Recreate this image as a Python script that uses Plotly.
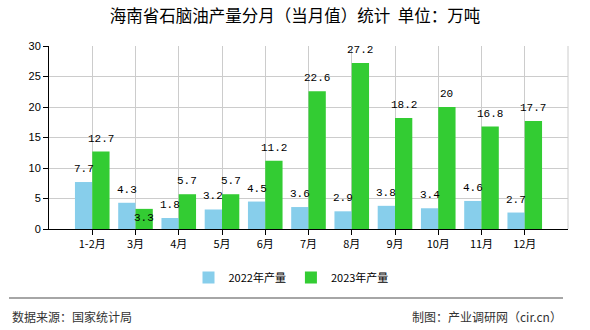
import plotly.graph_objects as go

categories = ["1-2月", "3月", "4月", "5月", "6月", "7月", "8月", "9月", "10月", "11月", "12月"]
values_2022 = [7.7, 4.3, 1.8, 3.2, 4.5, 3.6, 2.9, 3.8, 3.4, 4.6, 2.7]
values_2023 = [12.7, 3.3, 5.7, 5.7, 11.2, 22.6, 27.2, 18.2, 20, 16.8, 17.7]
series_names = ["2022年产量", "2023年产量"]
title_text = "海南省石脑油产量分月（当月值）统计  单位：万吨"
source_text = "数据来源：国家统计局"
credit_text = "制图：产业调研网（cir.cn）"

CJK = "Noto Sans CJK SC"
MONO = "Liberation Mono, DejaVu Sans Mono"

fig = go.Figure()
fig.add_trace(go.Bar(
    x=categories, y=values_2022, name=series_names[0],
    marker=dict(color="#87CEEB", line=dict(width=0)),
))
fig.add_trace(go.Bar(
    x=categories, y=values_2023, name=series_names[1],
    marker=dict(color="#33CC33", line=dict(width=0)),
))

# value labels, placed through the axis scales
annotations = []
half = 43.25 * 0.8 / 4  # offset of each bar centre from category centre (px)
for c, v1, v2 in zip(categories, values_2022, values_2023):
    annotations.append(dict(x=c, y=v1, text=str(v1), xref="x", yref="y", showarrow=False,
                            xshift=-half, yanchor="bottom", yshift=5,
                            font=dict(family=MONO, size=11, color="#000")))
    below = v2 < v1
    annotations.append(dict(x=c, y=v2, text=str(v2), xref="x", yref="y", showarrow=False,
                            xshift=half, yanchor="top" if below else "bottom",
                            yshift=-1 if below else 5,
                            font=dict(family=MONO, size=11, color="#000")))

annotations += [
    dict(text=source_text, xref="paper", yref="paper", x=(10-49)/519, xanchor="left",
         y=(229-316)/183, yanchor="middle", showarrow=False,
         font=dict(family=CJK, size=12, color="#333")),
    dict(text=credit_text, xref="paper", yref="paper", x=(564-49)/519, xanchor="right",
         y=(229-316)/183, yanchor="middle", showarrow=False,
         font=dict(family=CJK, size=12, color="#333")),
]

fig.update_layout(
    width=590, height=330,
    margin=dict(l=49, r=22, t=46, b=101),
    paper_bgcolor="white", plot_bgcolor="white",
    barmode="group", bargap=0.2, bargroupgap=0,
    font=dict(family=CJK, size=11, color="#000"),
    title=dict(text=title_text, x=0.5, xanchor="center", y=1 - 16/330, yanchor="middle",
               yref="container", font=dict(family=CJK, size=16.5, color="#000")),
    showlegend=True,
    legend=dict(orientation="h", x=(291-49)/519, xanchor="center", y=-0.265, yanchor="middle",
                font=dict(family=CJK, size=11, color="#000"),
                itemwidth=30, traceorder="normal"),
    xaxis=dict(
        range=[-1, 11], showline=True, linecolor="#000", linewidth=1,
        showgrid=True, gridcolor="#cccccc", gridwidth=1,
        ticks="outside", ticklen=5, tickcolor="#000",
        tickfont=dict(family=CJK, size=11, color="#000"),
        fixedrange=True,
    ),
    yaxis=dict(
        range=[0, 30], dtick=5, showline=True, linecolor="#000", linewidth=1,
        showgrid=True, gridcolor="#cccccc", gridwidth=1, zeroline=False,
        ticks="outside", ticklen=5, tickcolor="#000",
        tickfont=dict(family="Liberation Sans, Arial", size=11, color="#000"),
    ),
    shapes=[
        dict(type="line", xref="paper", yref="paper", x0=1, x1=1, y0=0, y1=1,
             line=dict(color="#cccccc", width=1)),
        dict(type="line", xref="paper", yref="paper", x0=(9-49)/519, x1=(563-49)/519,
             y0=(229-298)/183, y1=(229-298)/183, line=dict(color="#888888", width=1.5)),
    ],
    annotations=annotations,
)

fig.write_html("out.html")
